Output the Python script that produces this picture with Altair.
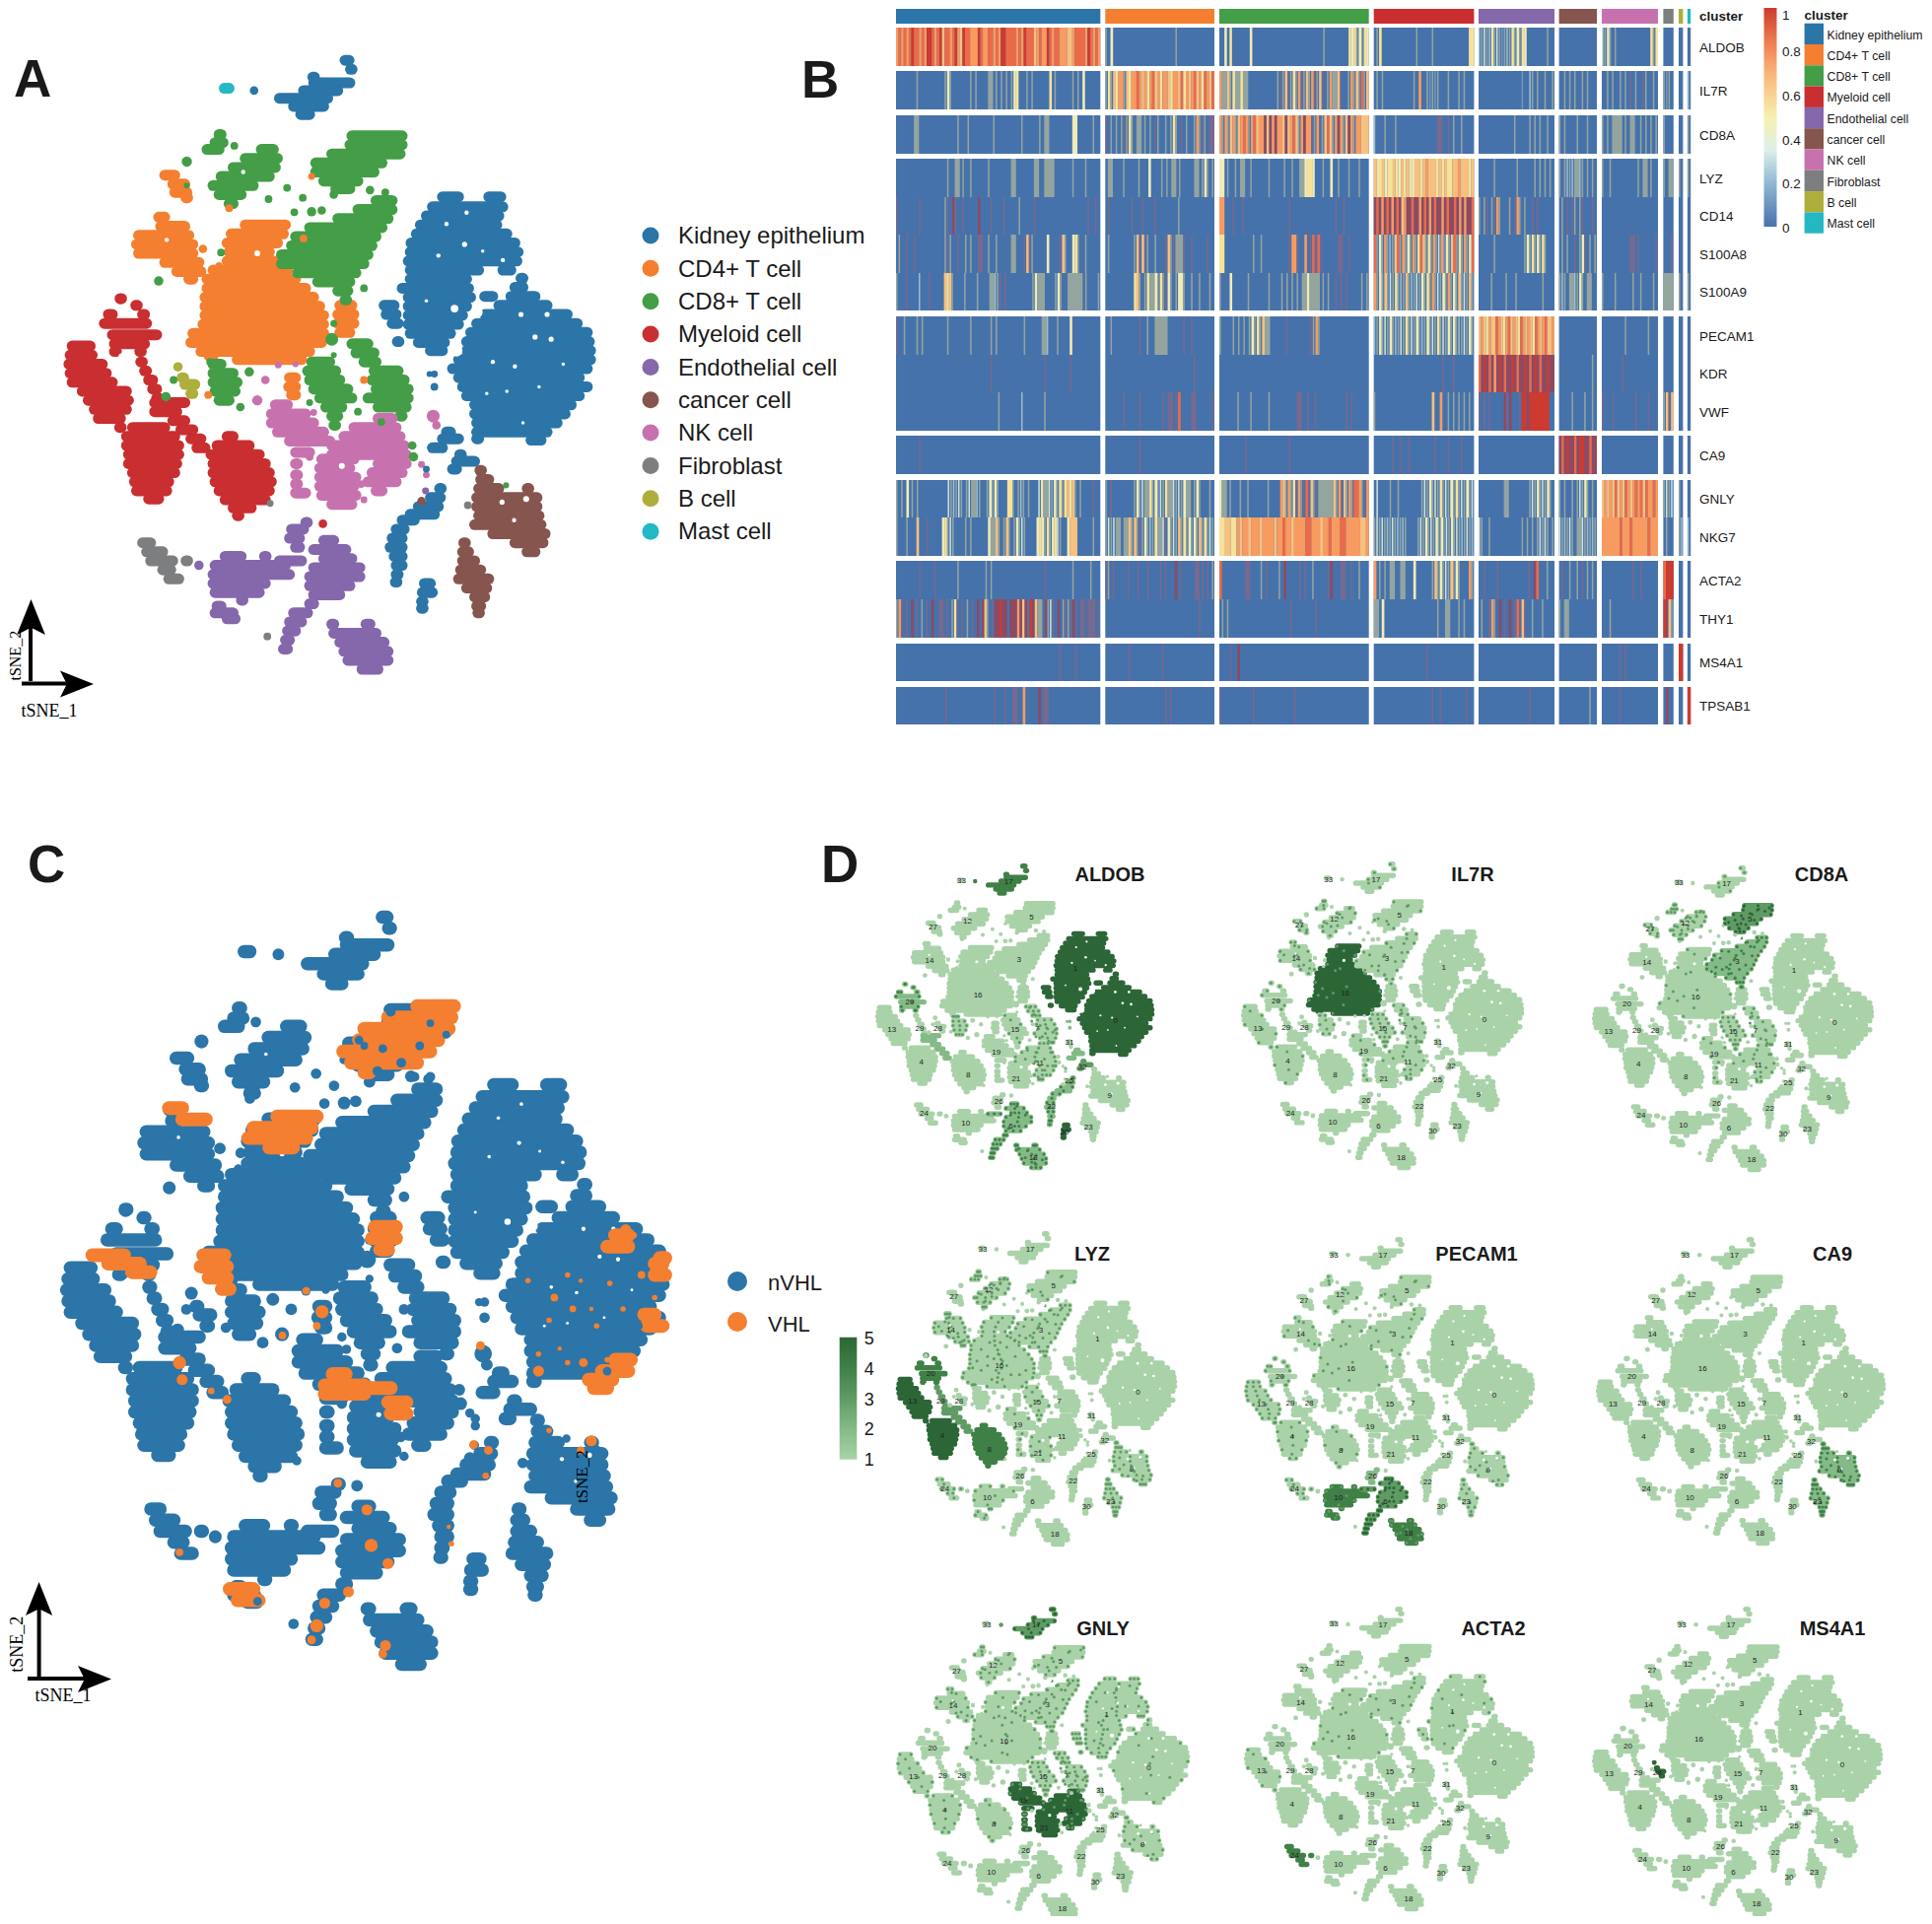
import altair as alt
import pandas as pd

# ---------------------------------------------------------------- palettes
CELLS = ["Kidney epithelium", "CD4+ T cell", "CD8+ T cell", "Myeloid cell", "Endothelial cell",
         "cancer cell", "NK cell", "Fibroblast", "B cell", "Mast cell"]
CELL_COLORS = ["#2b75a8", "#f47f30", "#449d47", "#c92e30", "#8567ab",
               "#85554e", "#c772ae", "#7d7e80", "#aeae3c", "#23b8c4"]

# ---------------------------------------------------------------- t-SNE layout
# horizontal runs of cells: (y, x from, x to)
SPANS = [
 ("17",0,[(68,848,878),(88,865,882),(105,770,790),(118,770,880),(135,745,850),(152,685,825),(170,720,815),(188,738,780)]),
 ("33",9,[(130,548,580)]),
 ("12",2,[(232,535,560),(250,525,565),(265,505,555),(265,640,690),(285,600,700),(305,570,695),(325,540,680),(345,520,640),(365,535,610),(385,560,590)]),
 ("27",1,[(322,400,445),(342,420,470),(360,425,475),(372,455,475)]),
 ("5",2,[(235,865,1010),(255,860,1010),(275,815,1005),(295,775,960),(315,775,940),(335,795,900),(352,825,880)]),
 ("14",1,[(415,385,420),(435,390,470),(455,335,480),(475,330,490),(495,335,490),(515,400,505),(535,430,510),(552,460,490)]),
 ("16",1,[(432,600,720),(452,565,715),(472,555,700),(492,560,680),(512,555,690),(532,520,725),(552,505,745),(572,505,770),(592,500,790),(612,500,805),(632,500,815),(652,495,815),(672,470,815),(692,465,810),(712,490,780),(722,510,540),(730,580,760)]),
 ("x",1,[(610,835,885),(630,830,890),(650,830,890),(670,835,880),(770,710,745),(790,708,745),(808,715,745)]),
 ("3",2,[(378,925,985),(398,880,985),(418,830,975),(438,760,960),(458,725,945),(478,715,935),(498,690,925),(518,690,915),(538,730,895),(558,780,880),(578,830,875),(598,850,870)]),
 ("20",3,[(595,292,310),(610,330,350),(630,260,290),(630,345,370),(650,250,375),(675,270,400),(695,275,370),(712,275,300),(712,340,360)]),
 ("13",3,[(700,170,235),(720,165,240),(740,162,265),(760,165,275),(780,170,290),(800,195,325),(820,210,330),(840,225,325),(860,235,310),(880,290,310)]),
 ("29",3,[(735,345,360),(755,350,375),(775,360,390),(795,370,400),(815,380,405)]),
 ("28",3,[(825,375,470),(845,375,450),(865,420,470),(885,440,490),(905,465,510),(925,480,520)]),
 ("4",3,[(880,320,420),(900,305,445),(920,305,455),(940,310,455),(960,310,450),(980,320,445),(1000,325,430),(1020,330,425),(1038,360,405)]),
 ("8",3,[(900,555,590),(920,530,630),(940,515,655),(960,520,670),(980,520,680),(1000,525,685),(1020,535,680),(1040,550,670),(1058,570,635),(1075,585,600)]),
 ("b",8,[(770,445,465),(785,450,495),(805,465,490)]),
 ("g2",2,[(740,520,560),(760,520,590),(780,520,600),(800,525,595),(820,535,580)]),
 ("15",2,[(735,765,830),(755,755,845),(775,760,855),(795,770,875),(815,785,885),(835,800,860),(855,815,850),(875,825,840)]),
 ("7",2,[(695,865,925),(715,875,940),(735,895,945),(755,920,1000),(775,915,1015),(795,925,1025),(815,905,1025),(835,930,1020),(855,985,1010)]),
 ("19",6,[(830,675,725),(850,665,770),(870,665,790),(890,680,815),(910,710,830),(935,725,780),(960,725,750),(985,725,750),(1005,725,750),(1025,725,770)]),
 ("21",6,[(950,790,890),(970,785,880),(990,785,895),(1010,785,890),(1030,790,895),(1050,815,885)]),
 ("11",6,[(860,930,985),(880,870,995),(900,845,1005),(920,815,1015),(940,815,1020),(960,930,1020),(980,915,1010),(1000,905,995),(1020,925,960)]),
 ("31",0,[(890,1100,1130),(905,1090,1150),(925,1065,1110)]),
 ("32",0,[(940,1135,1155),(955,1125,1190),(972,1115,1145)]),
 ("1",0,[(370,1090,1150),(370,1205,1255),(392,1065,1260),(412,1050,1250),(432,1035,1245),(452,1025,1270),(472,1012,1290),(492,1010,1298),(512,1005,1295),(532,1010,1200),(532,1240,1280),(552,1010,1170),(572,990,1175),(592,1005,1180),(612,1005,1170),(632,1005,1160),(652,1005,1150),(672,1010,1130),(692,1030,1115),(710,1060,1110),(610,945,990),(630,950,995),(650,965,1000),(690,980,1000)]),
 ("0",0,[(550,1285,1310),(570,1270,1310),(590,1195,1235),(590,1260,1340),(610,1230,1370),(630,1195,1420),(650,1175,1445),(670,1160,1470),(690,1150,1475),(710,1150,1478),(730,1130,1478),(750,1115,1470),(770,1130,1450),(790,1140,1470),(810,1150,1450),(830,1170,1430),(850,1170,1415),(870,1175,1395),(890,1175,1370),(905,1175,1200),(908,1310,1355)]),
 ("25",0,[(1015,1085,1105),(1035,1060,1105),(1055,1030,1100),(1072,1010,1090)]),
 ("22",0,[(1085,990,1040),(1105,975,1015),(1125,965,1010),(1145,960,1010),(1165,970,1010),(1185,975,1010),(1205,975,1000),(1222,978,992)]),
 ("30",0,[(1225,1045,1080),(1245,1040,1085),(1265,1040,1060),(1280,1045,1055)]),
 ("9",5,[(975,1190,1200),(995,1185,1225),(1015,1180,1250),(1015,1305,1320),(1035,1175,1345),(1055,1175,1345),(1075,1180,1350),(1095,1170,1355),(1115,1215,1365),(1135,1270,1360),(1155,1300,1340)]),
 ("23",5,[(1135,1145,1165),(1155,1140,1175),(1175,1140,1190),(1195,1135,1205),(1215,1130,1225),(1235,1150,1220),(1255,1170,1215),(1275,1175,1205),(1290,1185,1195)]),
 ("24",7,[(1135,345,385),(1155,355,415),(1175,365,440),(1175,455,475),(1195,395,435),(1215,410,455)]),
 ("10",4,[(1165,550,610),(1165,650,670),(1185,525,720),(1205,520,730),(1225,520,670),(1245,525,655),(1262,600,605),(1275,530,560),(1290,525,590),(1303,555,595)]),
 ("26",4,[(1090,755,770),(1105,715,765),(1125,710,755),(1145,725,755)]),
 ("6",4,[(1130,795,840),(1150,770,870),(1170,795,885),(1175,685,760),(1190,770,905),(1210,760,905),(1230,760,880),(1250,770,855),(1270,760,790),(1290,720,775),(1310,710,760),(1330,705,745),(1350,700,730),(1370,695,725)]),
 ("18",4,[(1315,815,840),(1315,900,930),(1335,820,945),(1355,835,965),(1375,845,975),(1395,855,975),(1415,890,950)]),
]
# separate single cells: (x, y, radius)
DOTS = [
 ("17",0,[(632,135,10)]),
 ("12",2,[(465,292,12),(583,257,9)]),
 ("x",2,[(465,345,7),(714,350,9),(668,375,9),(753,372,9),(732,404,9),(775,403,11),(800,400,10),(830,365,10),(920,355,10),(958,360,9),(905,572,9),(550,493,9),(395,556,11),(432,775,9),(413,812,11),(770,825,8),(1258,1008,7),(1025,920,10),(1028,945,11),(620,757,11),(598,835,10),(523,735,9),(890,845,9),(948,868,9),(830,720,7),(825,685,15),(830,650,8)]),
 ("x",1,[(755,462,9),(775,325,8),(570,395,9),(518,808,9),(905,775,9),(545,522,8),(505,485,10)]),
 ("x",7,[(672,1048,8),(1163,1052,9),(665,1342,9)]),
 ("b",8,[(443,746,11)]),
 ("x",6,[(1077,855,15),(1085,875,10),(1048,962,8),(1060,985,8),(640,820,12),(660,775,10),(692,742,8),(735,740,7),(780,847,8),(770,945,9),(905,1040,8),(898,1005,9)]),
 ("31",0,[(1080,762,8),(1080,790,9),(1068,762,7),(1060,972,8)]),
 ("x",4,[(1058,1020,8),(495,1185,11)]),
 ("x",5,[(1048,1043,10)]),
 ("x",3,[(803,1093,10),(300,597,11)]),
]
HOLES = [(1135,710,14),(1295,630,6),(1360,630,6),(1330,680,6),(1370,685,6),(1280,745,5),(1225,735,5),(1300,870,4),(1210,805,4),
         (1185,625,14),(1130,617,9),(1155,475,6),(1090,500,5),(1110,430,5),(1160,405,5),(300,750,18),(305,725,10),(1308,1038,7),
         (1278,1085,5),(1248,1045,6),(415,465,5),(605,315,5),(640,495,7),(850,965,7),(855,378,5),(1250,510,5),(1400,740,4),(1340,790,4),(1260,800,4),(1200,490,4),(1060,600,4)]

# extra spots used for the speckled expression in panel D
SPECK = {
 "16": [(560,570),(600,540),(640,590),(680,560),(720,600),(590,640),(630,660),(680,640),(740,680),(540,620),(610,700),(660,700),(700,680),(560,660),(620,610),(660,620),(770,660),(520,650),(590,600),(650,540)],
 "3": [(760,470),(800,440),(840,420),(880,400),(920,420),(790,510),(830,470),(870,450),(910,460),(850,520),(800,540),(740,510),(880,500),(940,390),(830,560),(720,530),(770,520),(860,380)],
 "5": [(830,300),(860,280),(900,270),(940,250),(970,260),(880,320),(920,300),(800,310),(850,340),(990,245),(870,240),(840,320)],
 "12": [(560,330),(590,320),(620,290),(650,280),(670,260),(580,360),(610,340),(640,310),(540,345),(600,290)],
 "14": [(360,470),(390,450),(420,470),(450,500),(480,530),(400,510),(430,520),(375,490),(410,430),(460,540)],
 "7": [(890,700),(910,730),(940,780),(970,790),(1000,810),(950,830),(920,830),(980,850),(1010,800),(900,760)],
 "11": [(880,890),(920,900),(960,930),(990,900),(1000,960),(950,980),(910,950),(870,930),(970,1000),(930,1010)],
 "1": [(1060,470),(1100,430),(1150,420),(1210,400),(1250,490),(1190,490),(1130,500),(1070,560),(1110,590),(1050,640),(1090,660),(1150,530)],
 "0": [(1200,720),(1250,660),(1320,640),(1390,670),(1430,730),(1390,800),(1330,850),(1260,860),(1200,820),(1300,740),(1240,770),(1350,720)],
 "6": [(800,1180),(830,1140),(870,1180),(840,1230),(790,1240),(820,1170)],
 "9": [(1210,1040),(1230,1070),(1250,1120),(1290,1140),(1320,1120),(1310,1040),(1280,1100),(1210,1090)],
 "18": [(840,1330),(880,1340),(920,1360),(950,1380),(900,1390),(870,1370),(920,1400)],
}

# ---------------------------------------------------------------- panel C overlay, read in that panel's own frame
VHL_SPANS = [(315,790,860),(335,735,855),(355,690,850),(375,680,830),(395,650,815),(415,665,790),(432,690,700),
             (510,525,600),(530,480,590),(548,470,580),(565,510,555),(495,320,345),(515,345,390),
             (755,175,235),(770,205,265),(785,250,285),(755,385,425),(775,380,430),(795,395,430),(815,420,435),
             (705,710,750),(725,705,750),(745,720,735),(965,630,655),(985,615,690),(1000,615,690),(990,690,740),(1015,735,770),(1035,740,770),
             (1345,435,480),(1365,450,490),(720,1165,1190),(740,1150,1190),(880,1225,1255),(860,1220,1240),(940,1165,1195),(960,1140,1190),(975,1115,1160),(990,1125,1150),(790,1240,1260),(770,1240,1255),(760,1250,1260)]
VHL = [(690,425,9),(340,945,12),(345,975,10),(400,995,6),(430,1010,8),(580,818,7),(610,855,12),(600,880,7),(535,897,7),
       (910,915,8),(897,1090,8),(925,1100,8),(920,1145,6),(850,1235,4),(855,1265,5),
       (1120,1083,10),(1100,1100,7),(1040,1065,5),(640,1158,8),(695,1205,10),(703,1268,12),(735,1300,10),
       (340,1280,7),(660,1350,10),(615,1370,10),(600,1410,12),(590,1435,8),(730,1445,10),(725,1460,8),
       (1185,710,10),(1255,790,7),(1105,945,8),(1020,960,10),(1215,790,7),(1050,830,7),(1085,850,6),(1155,805,5),(1130,880,5),(1000,800,5),(1075,945,5),(1020,930,5),(1200,720,6),
       (1075,790,5),(1040,870,5),(1100,800,4),(1120,850,4),(1180,850,5),(1060,920,4),(1150,940,5),(1240,830,5)]
NVHL_TOP = [(740,325,9),(680,375,8),(690,385,7),(725,390,8),(795,385,8),(815,345,7),(845,365,7),(760,415,9),(715,430,9),(785,440,9),(815,440,9),(488,1367,8),(1130,1100,9),
            (1150,960,8),(1215,760,7),(1210,880,7)]

# ---------------------------------------------------------------- panel D: per-gene levels (base shade, speck density)
GENE_PANELS = [
 ("ALDOB", 888,1170,877,1188, 1126,887, {"0":5,"1":5,"17":4,"30":5,"32":3,"31":2,"25":2,"22":2,"6":2,"18":2,"20":2,"28":2},
   {"7":3,"11":3,"g2":3,"6":3,"18":3,"22":2,"25":2,"20":2,"15":1}),
 ("IL7R", 1259,1545,875,1188, 1494,887, {"16":5}, {"16":1,"27":2,"14":2,"3":2,"15":3,"7":2,"11":2,"12":2,"17":1,"19":1,"g2":2,"20":1,"4":1,"13":1,"5":1}),
 ("CD8A", 1615,1900,879,1190, 1848,887, {"5":3,"3":2}, {"5":3,"3":3,"12":3,"27":2,"15":3,"7":2,"11":2,"16":1,"17":1,"19":1}),
 ("LYZ", 909,1193,1250,1570, 1108,1272, {"13":5,"4":5,"8":4,"20":4,"29":3,"28":3}, {"14":3,"12":3,"3":3,"16":3,"9":3,"23":3,"10":2,"15":2,"19":1,"21":2,"5":1,"24":2}),
 ("PECAM1", 1262,1556,1256,1569, 1498,1272, {"10":4,"6":3,"18":4,"26":2}, {"6":3,"18":2,"10":2,"13":3,"20":2,"4":2,"8":1,"3":1,"16":1,"9":2,"12":1,"5":1,"23":2,"24":2,"14":1}),
 ("CA9", 1619,1912,1256,1569, 1859,1272, {"9":2,"23":2}, {"9":3,"23":3}),
 ("GNLY", 909,1206,1631,1950, 1119,1652, {"19":5,"21":5,"11":5,"17":3}, {"15":3,"7":3,"5":2,"12":2,"3":3,"16":2,"1":3,"0":1,"9":2,"13":2,"4":2,"8":1,"14":2,"17":3,"19":2,"11":2}),
 ("ACTA2", 1262,1556,1631,1940, 1515,1652, {"24":4}, {"3":1,"16":1,"13":1,"1":1}),
 ("MS4A1", 1615,1909,1631,1945, 1859,1652, {"b":5}, {}),
]
CLUSTER_LABELS = [("33",437,129),("17",580,130),("12",455,250),("5",650,238),("27",350,268),("14",340,370),("3",612,368),("16",487,475),
                  ("1",783,396),("0",905,553),("20",280,497),("13",225,580),("29",310,578),("28",365,578),("15",600,581),("7",667,578),
                  ("31",765,622),("19",543,650),("4",315,681),("11",675,683),("32",805,695),("8",457,721),("21",603,733),("25",765,738),
                  ("9",887,782),("26",550,800),("22",710,817),("24",323,838),("10",450,866),("6",587,877),("23",823,878),("30",750,893),("18",655,973)]
SHADES = ["#a9d2a8", "#84ba87", "#5f9b64", "#3f8047", "#2c6637"]

# ---------------------------------------------------------------- panel B heatmap
COL_EDGES = [(909,1116.3),(1121.3,1232),(1237,1388.7),(1393.7,1495.4),(1500,1577),(1581.6,1620),(1625,1682),(1687.4,1697.8),(1703,1707.4),(1711.9,1715.2)]
ROWS = [("ALDOB",28,67),("IL7R",72,111),("CD8A",117,156),("LYZ",161,200),("CD14",200,238),("S100A8",238,277),("S100A9",277,315),
        ("PECAM1",321,360),("KDR",360,398),("VWF",398,437),("CA9",442,481),("GNLY",487,525),("NKG7",525,564),("ACTA2",569,608),("THY1",608,647),
        ("MS4A1",653,691),("TPSAB1",697,735)]
LEVEL_CODES = ["1","2","3","4","5","6","7","8","9","m","k","g"]
LEVEL_COLORS = ["#7397bb","#9dbdcf","#cfe3d9","#f0ecb8","#f6e29a","#f8c07f","#f79b61","#ec6a48","#cc3a30","#77698f","#8d4a62","#94a59f"]
THIN_CODES = "123mg"
H = {
"ALDOB":["78787898878799878968878976988777987788787998888787988867877987887776678888798787","g04000000000000000000000000g00000000000000","00405000000040000000000000000000000000000g000000000545g4g54","0g50000000000000g00000g000000000000055","2g3g25g3g1g2g5g4g5400000000g00","000000000000000","3g4g0g00000000000005g5","0000","00","0"],
"IL7R":["00000000g0000000000g4g0000000g0g0000gg0g0g0g0g45000g0g00000050g000000g0g04000000","g5g6577g6577876757867577657768576786758768","7gg6g5gg5gg00000000000gmg6mg5g7mg6g7mg6m0g7gg6m00g7g6g8g6","0g0g00000000000g0700g1g1g000g000g0g000","000000000000000001002g0g00g00g","00g0g0g00g0g000","00g0g00g0g0m0g00mg00g0","g1g0","00","2"],
"CD8A":["0000000gg000000000000000g000g000000000g0000000000g000000g0gg00000000044000000g00","m0g0g0gmg5g0gg0g0g0mg00g0g5g0m0g00g7gmg0mm","7g7g67g6787g78677k6k7k776k6786g7k77mg7mg686g7k7g6k7g77666","2000g000g000000000000000mm00m0g00g0000","00000000000000g00000g0g0g00g00","g0g0000g000g000","g0g0gggg0g0gg00g0g0g0g","g000","00","g"],
"LYZ":["00000000000000000000g00gg0g00g000000g00000000gg0000000gg00gggg0000000g0000g00000","0gg0000g00000g00040000g0g0gg0g00000gg0g4g0g","440g00g0gg00g000000g00000g00g00gg4554000g00400g000g000g000","6556455654656546656766656565566766656","000000g00000000g000000g0g0g0g0","g0g2g2gg2g0g0g0","g00g0000000000g0gg0g00","g0gg","g0","g"],
"CD14":["m00000000m000000000gm0km00m00000k0000m0000m00000g00000m00000000000000000000m00m0","0m00000000m000m0000m00000000g0000000000000","77000m000m00000000000000000m00000000000000000m00m000000000","k8k7k8k7k8k67kk8kk7k8k7k8kk7k8kk8k7k7kk8","g0gm0gm7g000g0m7g0g00m0m000000","0g0m0mg0gm000m0","0000000000000000000000","0000","00","0"],
"S100A8":["0g00m00m00000000000gmg00m00g0g00mm00g00g00000gg000m6mg0000040000m6g0045g00g00000","0g000000000g6m6mg00g000m6gmgggm00m00000m00","5500000000000g00g0000000000m77m0070m8m8m000000mm00m0000000","8g4g7g2g68g7g4g7g586g5g7g37g4g68g5g7g48","000000g00000000000g4g5g4g5g000","0g0g00m0g4m0g0g","00000000000mm0m000000m","000m","00","0"],
"S100A9":["g000m00002000m00000656g0000g0000g0000gg2gm0m0000000000g4ggg0000g4g00gggggg0g0000g","0000000000056g0g5gg4g5gm4g0g44g00g00g000g0","g0004000000g0000000g0000g0g0g0g0gg4gggg0g0g00m0m0m00000g0g","7g4g6g3g5g2g6g2g3g4g5g7g3g4g7g4g6g3g6g","00000g00000g000g0000000000g0000","g2g0gg2g4g0gg00","g0000g000000g00g0000g0","gggg","g0","g"],
"PECAM1":["m00g0000g0g000000000g00000000g0000000g0g0000000000g000000gg2000g0000400000000000","00g0000000000m00g00ggggg000000m00m00000000","g0000g0g0g0g4g5g6gg000000m00000000mg7g000000000000000000","2g4g3g4g2g3g5g3g4g2g4g3g5g3g4g4g2g3g4g","6765766876578676587676587678667","000000000000000","000000000g00000000g000","0000","00","0"],
"KDR":["0000000000000000000000000000000000000m00000000000000000000m000000000m00000000000","0000000000000000000000000000000000m0000000","0000000000000000000000000000000000000000000000000000000000","00000000000000000000000000m000m0000000","8k9k8k7k9k8kk9k8kk9k8k9k8kk9kk","0000000000000g0","00000000m0000000000000","0000","00","0"],
"VWF":["0000000000000000000000000000000000000000g00000000200000000g000000000000000000000","0000000m00000m00000000m0mm0m80000mm000000m","0000000g0000g000000g0000000000mm00m00m00000000000m0m000000","g000000000000000000000600700g0g0g0g0g0","m0m0m00000kmk000m99k9999999900","00000g0000g00g0","m000m00000000m0000m000","g6m6","00","0"],
"CA9":["000000000m0000000000000000000000000000000000000000000000000000000000000000000000","0000000000000m0000000000000000000000000000","0000000000m0000000000000000m000000000000000000000000000000","0000000m00m00m000000000m0000m0000m0000","000000000000000000000000000000","k8k9kk8k99kk8kk","0000000000000000000000","0000","00","0"],
"GNLY":["g0g040g0g000000000003g2g3g0g3gg2g00g4g4g00055g0g2g0g00035gg3g4g5g5656g0g0000m00","g0m00000000g4g3gg5g4g3g5gg3g3g4gg0g4g000g0","4gg0g000g00g0000000g000076g7g5m7gm8m6gmgggggg6g7m6g7g887gm7","030000g00g00000000g3g4g3g5g3g4g5g3g4g3","0000000000gg00000000g3g4g3g4g0","g0g00g0g3g4g0g0","6767686768767878687787","g3g3","g0","0"],
"NKG7":["g000g0006000m0000045g3g0000g0g0000004gg6g0g6g0g4g3g0000454g5g453g004666000000g00","g3g3gg0gg6g6gmg4g2g5gg3m4g3g6g5g4g4g6g5g3g","5566557677677767777677877677778877767787778877777667","g3g3g2g3g2g2g0000g3g4g3g4g4g3g4g3g2g3g2","3g00g000000000000g0g0g0g3g3g0g","3g2g3g0gg3g2g2g","7777777877787777778777","0g00","g2","2"],
"ACTA2":["000000000m00000m00000000g0000000000g0g00000000000000000000m0000000000g000000g000","mg0m00000m000m000m0000m0m000k0m00000mm0m0m0g","8000000000mm0000g0m0000g0k00000m0m00g00000mk000mm00m00g000","70g0g0gg00gg0004000000g6g4g3g6g4g0007g","00m0000m00000000000m0k8000g00","0m00g00g0m0g0g0","000000000000m00m000000","8999","00","0"],
"THY1":["g7m0m0k0m0g0m0k00mm0m0g5m0m0g0m0k0k6g0mkk9kk0kkk7k6km9k6gg0kg3m0k0gmgmkm0mm0mmm0m","000000000000000000000000000000000000m00000","0g0g000000000000000000000000m000000000m00000000000000000000","gg0400000000000000000000g00gg000g0g000","0g00m7g0k0m0k0m8m6m00g000g0000","g0gg00000000000","000g000000000000000000","9k6g","00","0"],
"MS4A1":["0000000000000000000000000000000000000000000000000000000000000000m00000m000000000","000000000m000000000000m0000000000000000000","0000m00k00000000000000000000000000000000000000000000000000","00000000000000000000m00000000000000000","000000000000000000000000000000","000000000000000","0000000m0m000000000000","0000","99","0"],
"TPSAB1":["0000000000000000000m000000000000000000m000m00mm00700000k0mm00000000000000000000","00000000000000000000000m0m0000000000000000","m000000000000m000000000000000m0000000000000000000000000000","0000000000000000000000m00m000000000m00","00000000000000000000m000000000","000000000000g00","0000000m00000000000000","0k00","00","9"],
}
HEAT_BASE = "#4672ab"
BAR_STOPS = [(0,"#4672ab"),(0.2,"#91b8d4"),(0.35,"#dcefe9"),(0.5,"#f7f0b0"),(0.7,"#f9b679"),(0.85,"#ee7a4e"),(1,"#cc3a30")]
GREEN_STOPS = [(0,"#a9d2a8"),(0.25,"#84ba87"),(0.5,"#5f9b64"),(0.75,"#3f8047"),(1,"#2c6637")]
BAR_TICKS = [("1",15),("0.8",52),("0.6",97),("0.4",142),("0.2",186),("0",231)]

# ---------------------------------------------------------------- scales and helpers
XS = alt.Scale(domain=[8,1952], nice=False, zero=False)
YS = alt.Scale(domain=[1944,8], nice=False, zero=False)
X = alt.X("x:Q", scale=XS, axis=None)
Y = alt.Y("y:Q", scale=YS, axis=None)
X2, Y2 = alt.X2("x2"), alt.Y2("y2")

def mapper(x0,x1,y0,y1):
    sx,sy = (x1-x0)/1315, (y1-y0)/1370
    return (lambda u: x0+(u-160)*sx), (lambda v: y0+(v-60)*sy), (sx+sy)/2, sy

def inset(a,b):
    return (a+10,b-10) if b-a > 24 else ((a+b)/2-2,(a+b)/2+2)

def texts(rows, **kw):
    kw.setdefault("align","left"); kw.setdefault("font","Liberation Sans"); kw.setdefault("color","#1a1a1a")
    df = pd.DataFrame([(a,b+1.2,c) for a,b,c in rows], columns=["x","y","t"])
    return alt.Chart(df).mark_text(baseline="middle", **kw).encode(x=X, y=Y, text="t:N")

def circles(df, color):
    return alt.Chart(df).mark_circle(opacity=1, stroke=None).encode(x=X, y=Y, size=alt.Size("s:Q", scale=None, legend=None), color=color)

def runs(df, width, color):
    return alt.Chart(df).mark_rule(opacity=1, strokeWidth=width, strokeCap="round").encode(x=X, x2=X2, y=Y, color=color)

def rects(rows, color):
    df = pd.DataFrame(rows, columns=["x","x2","y","y2","c"])
    return alt.Chart(df).mark_rect(stroke=None, opacity=1).encode(x=X, x2=X2, y=Y, y2=Y2,
        color=alt.Color("c:N", scale=alt.Scale(domain=color[0], range=color[1]), legend=None))

def arrow(ax0, ay0, ax1, ay1, cx, cy, s, angle):
    line = alt.Chart(pd.DataFrame([{"x":ax0,"y":ay0,"x2":ax1,"y2":ay1}])).mark_rule(strokeWidth=4, color="black").encode(x=X,y=Y,x2=X2,y2=Y2)
    head = alt.Chart(pd.DataFrame([{"x":cx,"y":cy}])).mark_point(shape="M0,-1 L0.8,1 L0,0.6 L-0.8,1 Z", filled=True, opacity=1, color="black", size=(2*s)**2, angle=angle, stroke=None).encode(x=X,y=Y)
    return [line, head]

cell_scale = alt.Scale(domain=CELLS+["hole"], range=CELL_COLORS+["#ffffff"])
cell_color = alt.Color("cell:N", scale=cell_scale, legend=None)
layers = []

# ---- panel A
fx,fy,s,sy = mapper(65,602,57.5,686)
rows = [{"x":fx(inset(a,b)[0]),"x2":fx(inset(a,b)[1]),"y":fy(v),"cell":CELLS[c]} for _,c,sp in SPANS for v,a,b in sp]
layers.append(runs(pd.DataFrame(rows), 24*sy, cell_color))
rows = [{"x":fx(u),"y":fy(v),"s":(2*r*s)**2,"cell":CELLS[c]} for _,c,ds in DOTS for u,v,r in ds]
rows += [{"x":fx(u),"y":fy(v),"s":(2*r*s)**2,"cell":"hole"} for u,v,r in HOLES]
layers.append(circles(pd.DataFrame(rows), cell_color))
layers += arrow(31,691,31,630,31.5,626,18,0) + arrow(22,693.5,70,693.5,78,694,17,90)
layers.append(texts([(50,721,"tSNE_1")], font="Liberation Serif", fontSize=18, align="center", color="black"))
layers.append(texts([(16,664,"tSNE_2")], font="Liberation Serif", fontSize=16, align="center", angle=270, color="black"))
leg_rows = [{"x":660,"y":239+33.35*i,"s":17**2,"cell":c} for i,c in enumerate(CELLS)]
layers.append(circles(pd.DataFrame(leg_rows), cell_color))
layers.append(texts([(688,239+33.35*i,c) for i,c in enumerate(CELLS)], fontSize=24))
layers.append(texts([(14,81,"A"),(813,82,"B"),(28,878,"C"),(833,878,"D")], fontSize=53, fontWeight="bold"))

# ---- panel B
layers.append(rects([(a,b,9,24,c) for c,(a,b) in zip(CELLS,COL_EDGES)], (CELLS,CELL_COLORS)))
layers.append(rects([(a,b,y0,y1,"0") for _,y0,y1 in ROWS for a,b in COL_EDGES], (["0"],[HEAT_BASE])))
cells = []
for gene,y0,y1 in ROWS:
    for (a,b),pat in zip(COL_EDGES,H[gene]):
        w = (b-a)/len(pat)
        i = 0
        while i < len(pat):
            j = i
            while j+1 < len(pat) and pat[j+1]==pat[i]:
                j += 1
            if pat[i] != "0":
                x1 = a+(j+1)*w
                if pat[i] in THIN_CODES and j == i:
                    x1 = a+i*w+min(w,1.5)
                cells.append((a+i*w, x1, y0, y1, pat[i]))
            i = j+1
layers.append(rects(cells, (LEVEL_CODES,LEVEL_COLORS)))
layers.append(texts([(1724,(y0+y1)/2,g) for g,y0,y1 in ROWS], fontSize=13.5))
layers.append(texts([(1724,16,"cluster"),(1830.6,15,"cluster")], fontSize=13.5, fontWeight="bold"))
grad = alt.LinearGradient(gradient="linear", x1=0, x2=0, y1=1, y2=0, stops=[alt.GradientStop(color=c, offset=o) for o,c in BAR_STOPS])
layers.append(alt.Chart(pd.DataFrame([{"x":1789.5,"x2":1802.5,"y":8,"y2":230}])).mark_rect(color=grad).encode(x=X,x2=X2,y=Y,y2=Y2))
layers.append(texts([(1808,y,t) for t,y in BAR_TICKS], fontSize=13.5))
layers.append(rects([(1830.6,1850,23.7+21.3*i,23.7+21.3*(i+1),c) for i,c in enumerate(CELLS)], (CELLS,CELL_COLORS)))
layers.append(texts([(1853.5,34.3+21.3*i,c) for i,c in enumerate(CELLS)], fontSize=12.3))

# ---- panel C
fx,fy,s,sy = mapper(62,676,926,1697)
vhl_scale = alt.Scale(domain=["nVHL","VHL","hole"], range=["#2b75a8","#f47f30","#ffffff"])
vhl_color = alt.Color("cell:N", scale=vhl_scale, legend=None)
rows = [{"x":fx(inset(a,b)[0]),"x2":fx(inset(a,b)[1]),"y":fy(v),"cell":"nVHL"} for _,c,sp in SPANS for v,a,b in sp]
layers.append(runs(pd.DataFrame(rows), 24*sy, vhl_color))
rows = [{"x":fx(u),"y":fy(v),"s":(2*r*s*1.15)**2,"cell":"nVHL"} for _,c,ds in DOTS for u,v,r in ds]
rows += [{"x":fx(u),"y":fy(v),"s":(2*r*s*0.7)**2,"cell":"hole"} for u,v,r in HOLES]
layers.append(circles(pd.DataFrame(rows), vhl_color))
rows = [{"x":a/1.867,"x2":b/1.867,"y":840+v/1.742,"cell":"VHL"} for v,a,b in VHL_SPANS]
layers.append(runs(pd.DataFrame(rows), 14, vhl_color))
rows = [{"x":u/1.867,"y":840+v/1.742,"s":(2*r/1.8)**2,"cell":"VHL"} for u,v,r in VHL]
rows += [{"x":u/1.867,"y":840+v/1.742,"s":(2*r/1.8)**2,"cell":"nVHL"} for u,v,r in NVHL_TOP]
layers.append(circles(pd.DataFrame(rows), vhl_color))
layers += arrow(39.6,1701,39.6,1630,39.6,1622,17,0) + arrow(28,1703,90,1703,96,1703.5,17,90)
layers.append(texts([(64,1720,"tSNE_1")], font="Liberation Serif", fontSize=18, align="center", color="black"))
layers.append(texts([(18,1667,"tSNE_2")], font="Liberation Serif", fontSize=18, align="center", angle=270, color="black"))
layers.append(texts([(591,1497,"tSNE_2")], font="Liberation Serif", fontSize=17, align="center", angle=270, color="black"))
layers.append(circles(pd.DataFrame([{"x":748,"y":1300,"s":20**2,"cell":"nVHL"},{"x":748,"y":1341,"s":20**2,"cell":"VHL"}]), vhl_color))
layers.append(texts([(779,1301,"nVHL"),(779,1343,"VHL")], fontSize=22))

# ---- panel D
green = alt.Color("shade:Q", scale=alt.Scale(domain=[1,2,3,4,5], range=SHADES), legend=None)
for gene,x0,x1,y0,y1,tx,ty,base_levels,speck_levels in GENE_PANELS:
    fx,fy,s,sy = mapper(x0,x1,y0,y1)
    rows = [{"x":fx(inset(a,b)[0]),"x2":fx(inset(a,b)[1]),"y":fy(v),"shade":base_levels.get(cid,1)} for cid,c,sp in SPANS for v,a,b in sp]
    layers.append(runs(pd.DataFrame(rows), 24*sy, green))
    rows = [{"x":fx(u),"y":fy(v),"s":max(2*r*s,3.2)**2,"shade":base_levels.get(cid,1)} for cid,c,ds in DOTS for u,v,r in ds]
    for cid,dens in speck_levels.items():
        pts = []
        for c,_,sp in SPANS:
            if c == cid:
                for v,a,b in sp:
                    pts += [(a+8,v),((a+b)/2,v),(b-8,v)]
        pts += SPECK.get(cid,[])
        step = {1:4,2:2,3:1}[dens]
        base = base_levels.get(cid,1)
        for u,v in pts[::step]:
            rows.append({"x":fx(u),"y":fy(v),"s":3.0**2,"shade":min(base+2,5) if base<4 else 3})
    layers.append(circles(pd.DataFrame(rows), green))
    hole = pd.DataFrame([{"x":fx(u),"y":fy(v),"s":(2*r*s)**2} for u,v,r in HOLES])
    layers.append(alt.Chart(hole).mark_circle(opacity=1, color="white", stroke=None).encode(x=X, y=Y, size=alt.Size("s:Q", scale=None, legend=None)))
    lab = [(x0+(zx-175)/845*(x1-x0), y0+(zy-80)/935*(y1-y0), t) for t,zx,zy in CLUSTER_LABELS]
    layers.append(texts(lab, fontSize=8, align="center", color="#222222"))
    layers.append(texts([(tx,ty,gene)], fontSize=20, fontWeight="bold", align="center"))
grad2 = alt.LinearGradient(gradient="linear", x1=0, x2=0, y1=1, y2=0, stops=[alt.GradientStop(color=c, offset=o) for o,c in GREEN_STOPS])
layers.append(alt.Chart(pd.DataFrame([{"x":851.7,"x2":869.3,"y":1356.7,"y2":1480.7}])).mark_rect(color=grad2).encode(x=X,x2=X2,y=Y,y2=Y2))
layers.append(texts([(881.7,y,t) for t,y in [("5",1358),("4",1389),("3",1420),("2",1450),("1",1481)]], fontSize=18, align="center"))

chart = alt.layer(*layers).resolve_scale(color="independent").properties(
    width=1944, height=1936, padding=0, autosize="none").configure_view(stroke=None)
chart.save("out.html", embed_options={"renderer":"svg","actions":False})
